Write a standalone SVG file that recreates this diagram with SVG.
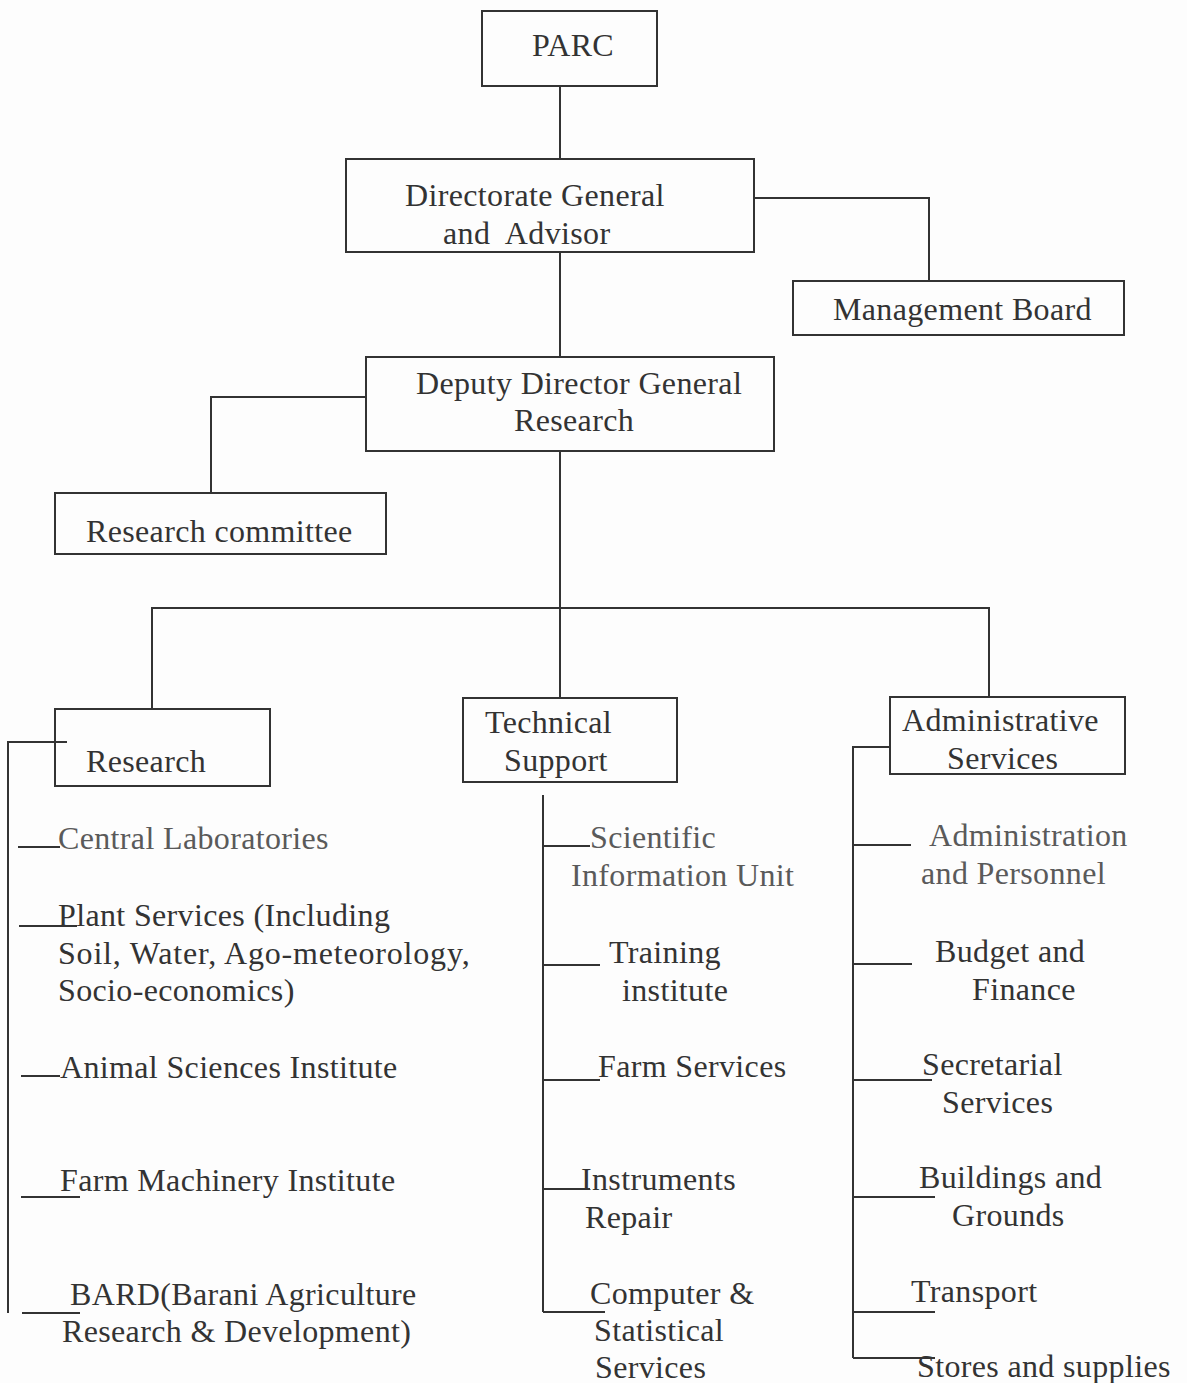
<svg xmlns="http://www.w3.org/2000/svg" width="1187" height="1383" viewBox="0 0 1187 1383">
<style>
text{font-family:"Liberation Serif","Times New Roman",serif;font-size:32px;fill:#333;letter-spacing:0.35px}
.lt{fill:#5a5a5a}
.box{fill:none;stroke:#333;stroke-width:2}
.ln{fill:none;stroke:#333;stroke-width:2}
</style>
<rect width="1187" height="1383" fill="#fdfdfd"/>
<g id="connectors">
<path class="ln" d="M560 86V160"/>
<path class="ln" d="M754 198H929V281"/>
<path class="ln" d="M560 252V357"/>
<path class="ln" d="M366 397H211V493"/>
<path class="ln" d="M560 451V698"/>
<path class="ln" d="M152 709V608H989V697"/>
<path class="ln" d="M67 742H8V1313"/>
<path class="ln" d="M18 847H60M19 926H77M21 1076H60M21 1197H80M22 1313H80"/>
<path class="ln" d="M543 795V1312"/>
<path class="ln" d="M543 846H590M543 965H600M543 1080H600M543 1189H590M543 1312H605"/>
<path class="ln" d="M890 747H853V1358"/>
<path class="ln" d="M853 845H911M853 964H912M853 1080H932M853 1197H935M853 1312H935M853 1358H935"/>
</g>
<g id="parc"><rect class="box" x="482" y="11" width="175" height="75"/><text x="532" y="56">PARC</text></g>
<g id="dg"><rect class="box" x="346" y="159" width="408" height="93"/><text x="405" y="206">Directorate General</text><text x="443" y="244">and <tspan dx="8">Advisor</tspan></text></g>
<g id="board"><rect class="box" x="793" y="281" width="331" height="54"/><text x="833" y="320">Management Board</text></g>
<g id="ddg"><rect class="box" x="366" y="357" width="408" height="94"/><text x="416" y="394">Deputy Director General</text><text x="514" y="431">Research</text></g>
<g id="committee"><rect class="box" x="55" y="493" width="331" height="61"/><text x="86" y="542">Research committee</text></g>
<g id="research"><rect class="box" x="55" y="709" width="215" height="77"/><text x="86" y="772">Research</text></g>
<g id="technical"><rect class="box" x="463" y="698" width="214" height="84"/><text x="485" y="733">Technical</text><text x="504" y="771">Support</text></g>
<g id="admin"><rect class="box" x="890" y="697" width="235" height="77"/><text x="902" y="731">Administrative</text><text x="947" y="769">Services</text></g>
<g id="central-labs"><text class="lt" x="58" y="849">Central Laboratories</text></g>
<g id="plant-services"><text x="58" y="926">Plant Services (Including</text><text x="58" y="964" textLength="412" lengthAdjust="spacing">Soil, Water, Ago-meteorology,</text><text x="58" y="1001">Socio-economics)</text></g>
<g id="animal"><text x="60" y="1078">Animal Sciences Institute</text></g>
<g id="farm-machinery"><text x="60" y="1191">Farm Machinery Institute</text></g>
<g id="bard"><text x="70" y="1305">BARD(Barani Agriculture</text><text x="62" y="1342">Research &amp; Development)</text></g>
<g id="sci-info"><text class="lt" x="590" y="848">Scientific</text><text class="lt" x="571" y="886">Information Unit</text></g>
<g id="training"><text x="609" y="963">Training</text><text x="622" y="1001">institute</text></g>
<g id="farm-services"><text x="598" y="1077">Farm Services</text></g>
<g id="instruments"><text x="581" y="1190">Instruments</text><text x="585" y="1228">Repair</text></g>
<g id="computer"><text x="590" y="1304">Computer &amp;</text><text x="594" y="1341">Statistical</text><text x="595" y="1378">Services</text></g>
<g id="admin-personnel"><text class="lt" x="929" y="846">Administration</text><text class="lt" x="921" y="884">and Personnel</text></g>
<g id="budget"><text x="935" y="962">Budget and</text><text x="972" y="1000">Finance</text></g>
<g id="secretarial"><text x="922" y="1075">Secretarial</text><text x="942" y="1113">Services</text></g>
<g id="buildings"><text x="919" y="1188">Buildings and</text><text x="952" y="1226">Grounds</text></g>
<g id="transport"><text x="911" y="1302">Transport</text></g>
<g id="stores"><text x="917" y="1377">Stores and supplies</text></g>
</svg>
